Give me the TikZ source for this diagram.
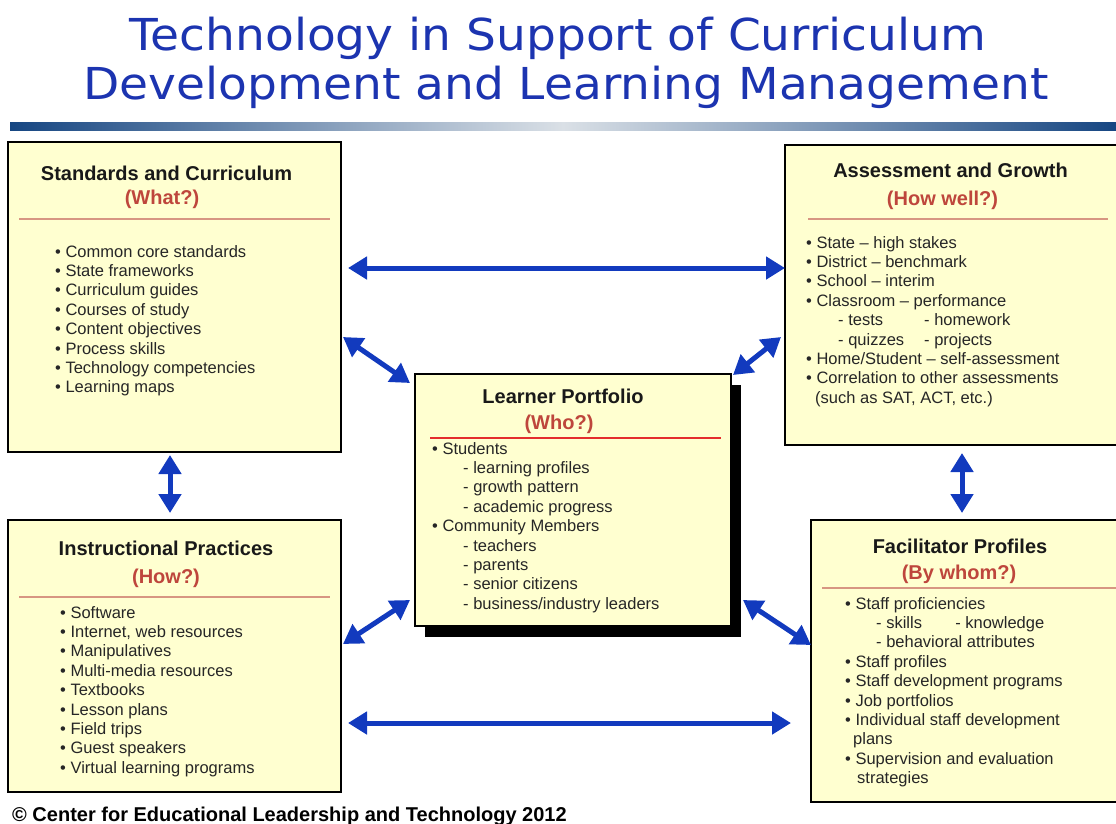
\documentclass[tikz,border=0pt]{standalone}
\usepackage{fontspec}
\setmainfont{Liberation Sans}
\newfontfamily\titlefont[FakeStretch=1.07]{DejaVu Sans}
\usetikzlibrary{arrows.meta,calc,shadows}

\definecolor{boxfill}{RGB}{255,255,208}
\definecolor{askred}{RGB}{190,70,60}
\definecolor{rulered}{RGB}{215,150,130}
\definecolor{whored}{RGB}{228,45,45}
\definecolor{arrowblue}{RGB}{18,58,190}
\definecolor{titleblue}{RGB}{28,52,176}
\definecolor{bardark}{RGB}{22,70,130}
\definecolor{barlight}{RGB}{218,224,230}

\newcommand{\blt}{\textbullet\ }
\newcommand{\dsh}{\hspace*{31pt}- }

\tikzset{
  panel/.style={draw=black, line width=2.4pt, fill=boxfill, inner sep=0pt, outer sep=0pt},
  head/.style={font=\fontsize{20}{24}\selectfont\bfseries, text=black!90, inner sep=0pt},
  ask/.style={font=\fontsize{20}{24}\selectfont\bfseries, text=askred, inner sep=0pt},
  items/.style={anchor=north west, inner sep=0pt, align=left,
    font=\fontsize{16.5}{19.4}\selectfont, text=black!85},
  rule/.style={draw=rulered, line width=1.4pt},
  twoway/.style={draw=arrowblue, line width=5pt,
    {Triangle[length=19pt,width=22pt]}-{Triangle[length=19pt,width=22pt]}},
  titletext/.style={font=\titlefont\fontsize{44}{49}\selectfont, text=titleblue,
    anchor=base, inner sep=0pt}
}

\begin{document}
\begin{tikzpicture}[x=1pt,y=-1pt]
  \useasboundingbox (0,0) rectangle (1116,823);

  % title and bar
  \node[titletext] (titleA) at (558,50) {Technology in Support of Curriculum};
  \node[titletext] (titleB) at (566,99) {Development and Learning Management};
  \shade[left color=bardark, right color=bardark, middle color=barlight] (10,122) rectangle (1116,130);

  % the five panels
  \node[panel, minimum width=333pt, minimum height=310pt] (stand) at (174.5,297) {};
  \node[panel, minimum width=340pt, minimum height=300pt] (assess) at (955,295) {};
  \node[panel, minimum width=316pt, minimum height=252pt,
    drop shadow={shadow xshift=10pt, shadow yshift=-11pt, fill=black, opacity=1}] (learner) at (573,500) {};
  \node[panel, minimum width=333pt, minimum height=272pt] (instr) at (174.5,656) {};
  \node[panel, minimum width=314pt, minimum height=282pt] (facil) at (968,661) {};

  % Standards and Curriculum
  \node[head] (standHead) at (166.5,173) {Standards and Curriculum};
  \node[ask] (standAsk) at (162,199) {(What?)};
  \draw[rule] ($(stand.north west)+(11,77)$) -- ($(stand.north east)+(-11,77)$);
  \node[items] (standList) at (55,245) {\blt Common core standards\\
    \blt State frameworks\\
    \blt Curriculum guides\\
    \blt Courses of study\\
    \blt Content objectives\\
    \blt Process skills\\
    \blt Technology competencies\\
    \blt Learning maps};

  % Assessment and Growth
  \node[head] (assessHead) at (950.5,170) {Assessment and Growth};
  \node[ask] (assessAsk) at (942.5,200) {(How well?)};
  \draw[rule] ($(assess.north west)+(23,74)$) -- ($(assess.north west)+(323,74)$);
  \node[items] (assessList) at (806,236) {\blt State -- high stakes\\
    \blt District -- benchmark\\
    \blt School -- interim\\
    \blt Classroom -- performance\\
    \hspace*{32pt}\makebox[86pt][l]{- tests}- homework\\
    \hspace*{32pt}\makebox[86pt][l]{- quizzes}- projects\\
    \blt Home/Student -- self-assessment\\
    \blt Correlation to other assessments\\
    \hspace*{9pt}(such as SAT, ACT, etc.)};

  % Learner Portfolio
  \node[head] (learnerHead) at (563,396) {Learner Portfolio};
  \node[ask] (learnerAsk) at (559,424) {(Who?)};
  \draw[draw=whored, line width=2pt] ($(learner.north west)+(15,64)$) -- ($(learner.north east)+(-10,64)$);
  \node[items] (learnerList) at (432,442) {\blt Students\\
    \dsh learning profiles\\
    \dsh growth pattern\\
    \dsh academic progress\\
    \blt Community Members\\
    \dsh teachers\\
    \dsh parents\\
    \dsh senior citizens\\
    \dsh business/industry leaders};

  % Instructional Practices
  \node[head] (instrHead) at (166,548) {Instructional Practices};
  \node[ask] (instrAsk) at (166,578) {(How?)};
  \draw[rule] ($(instr.north west)+(11,77)$) -- ($(instr.north east)+(-11,77)$);
  \node[items] (instrList) at (60,606) {\blt Software\\
    \blt Internet, web resources\\
    \blt Manipulatives\\
    \blt Multi-media resources\\
    \blt Textbooks\\
    \blt Lesson plans\\
    \blt Field trips\\
    \blt Guest speakers\\
    \blt Virtual learning programs};

  % Facilitator Profiles
  \node[head] (facilHead) at (960,546) {Facilitator Profiles};
  \node[ask] (facilAsk) at (959,574) {(By whom?)};
  \draw[rule] ($(facil.north west)+(11,68)$) -- ($(facil.north east)+(-9,68)$);
  \node[items] (facilList) at (845,597) {\blt Staff proficiencies\\
    \dsh\makebox[69pt][l]{skills}- knowledge\\
    \dsh behavioral attributes\\
    \blt Staff profiles\\
    \blt Staff development programs\\
    \blt Job portfolios\\
    \blt Individual staff development\\
    \hspace*{8pt}plans\\
    \blt Supervision and evaluation\\
    \hspace*{12pt}strategies};

  % connectors
  \draw[twoway] ($(stand.east)+(7,-29)$) -- ($(assess.west)+(0,-27)$);
  \draw[twoway] ($(instr.east)+(7,67)$) -- ($(facil.west)+(-20,62)$);
  \draw[twoway] ($(stand.south)+(-4.5,3)$) -- ($(instr.north)+(-4.5,-7)$);
  \draw[twoway] ($(assess.south)+(7,8)$) -- ($(facil.north)+(-6,-7)$);
  \draw[twoway] ($(stand.east)+(2,40)$) -- ($(learner.north west)+(-5,9)$);
  \draw[twoway] ($(assess.west)+(-4,42)$) -- ($(learner.north east)+(2,1)$);
  \draw[twoway] ($(instr.east)+(2,-12)$) -- ($(learner.south west)+(-5,-26)$);
  \draw[twoway] ($(learner.south east)+(12,-26)$) -- ($(facil.west)+(0,-16)$);

  % footer
  \node[anchor=base west, inner sep=0pt, font=\fontsize{20}{24}\selectfont\bfseries] (credit) at (12,821)
    {\textcopyright\ Center for Educational Leadership and Technology 2012};
\end{tikzpicture}
\end{document}
